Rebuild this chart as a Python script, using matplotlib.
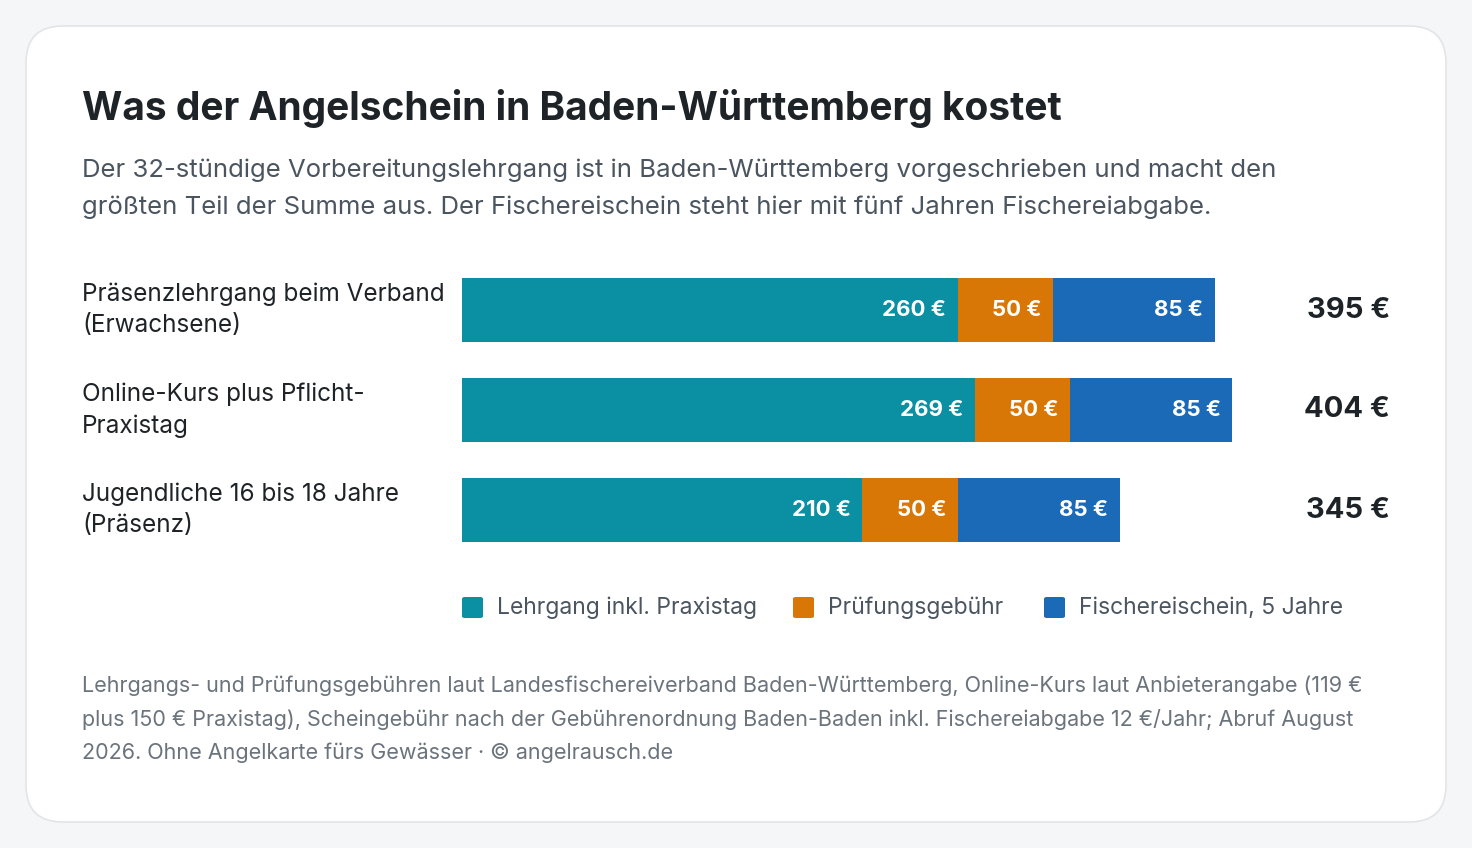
import matplotlib.pyplot as plt
from matplotlib.patches import FancyBboxPatch

categories = ["Präsenzlehrgang beim Verband\n(Erwachsene)",
              "Online-Kurs plus Pflicht-\nPraxistag",
              "Jugendliche 16 bis 18 Jahre\n(Präsenz)"]
lehrgang = [260, 269, 210]
pruefung = [50, 50, 50]
schein = [85, 85, 85]
series_names = ["Lehrgang inkl. Praxistag", "Prüfungsgebühr", "Fischereischein, 5 Jahre"]
colors = ["#0A8FA3", "#D97706", "#1B6AB8"]

plt.rcParams['font.family'] = ['Inter', 'DejaVu Sans']
W, H = 1472, 848
fig = plt.figure(figsize=(W / 100, H / 100), dpi=100)
fig.patch.set_facecolor("#F5F6F7")

def fx(x): return x / W
def fy(y): return 1 - y / H

card = FancyBboxPatch((fx(26), fy(822)), fx(1420), (822 - 26) / H,
                      boxstyle="round,pad=0,rounding_size=0.025", transform=fig.transFigure,
                      facecolor="white", edgecolor="#E2E4E7", linewidth=1.2,
                      mutation_aspect=W / H, zorder=-5)
fig.patches.append(card)

fig.text(fx(82), fy(108), "Was der Angelschein in Baden-Württemberg kostet",
         fontsize=28, fontweight="bold", color="#1E2328", va="center")
fig.text(fx(82), fy(189), "Der 32-stündige Vorbereitungslehrgang ist in Baden-Württemberg vorgeschrieben und macht den\n"
         "größten Teil der Summe aus. Der Fischereischein steht hier mit fünf Jahren Fischereiabgabe.",
         fontsize=18.5, color="#4B5560", va="center", linespacing=1.75)

ax = fig.add_axes([fx(462), fy(542), (1232 - 462) / W, (542 - 278) / H])
ax.set_zorder(2)
ax.set_xlim(0, 404)
ax.set_ylim(2.32, -0.32)
ax.axis("off")
y = list(range(len(categories)))
lefts = [0] * len(y)
for vals, col in zip([lehrgang, pruefung, schein], colors):
    ax.barh(y, vals, left=lefts, height=0.64, color=col)
    for i, v in enumerate(vals):
        ax.text(lefts[i] + v - 6, i, f"{v} €", ha="right", va="center",
                color="white", fontsize=16, fontweight="bold")
    lefts = [l + v for l, v in zip(lefts, vals)]

for i, (cat, tot) in enumerate(zip(categories, lefts)):
    yc = 310 + 100 * i
    fig.text(fx(82), fy(yc), cat, fontsize=17.5, color="#1E2328", va="center", linespacing=1.45)
    fig.text(fx(1390), fy(yc), f"{tot} €", fontsize=21, fontweight="bold",
             color="#1E2328", va="center", ha="right")

lx = [462, 793, 1044]
for x, name, col in zip(lx, series_names, colors):
    fig.patches.append(FancyBboxPatch((fx(x), fy(618)), fx(21), 21 / H,
                                      boxstyle="round,pad=0,rounding_size=0.002",
                                      transform=fig.transFigure, facecolor=col, edgecolor="none"))
    fig.text(fx(x + 35), fy(608), name, fontsize=16.5, color="#4B5560", va="center")

fig.text(fx(82), fy(719), "Lehrgangs- und Prüfungsgebühren laut Landesfischereiverband Baden-Württemberg, Online-Kurs laut Anbieterangabe (119 €\n"
         "plus 150 € Praxistag), Scheingebühr nach der Gebührenordnung Baden-Baden inkl. Fischereiabgabe 12 €/Jahr; Abruf August\n"
         "2026. Ohne Angelkarte fürs Gewässer · © angelrausch.de",
         fontsize=15.5, color="#6B737C", va="center", linespacing=1.75)

fig.savefig("out.png", dpi=100, facecolor=fig.get_facecolor())
